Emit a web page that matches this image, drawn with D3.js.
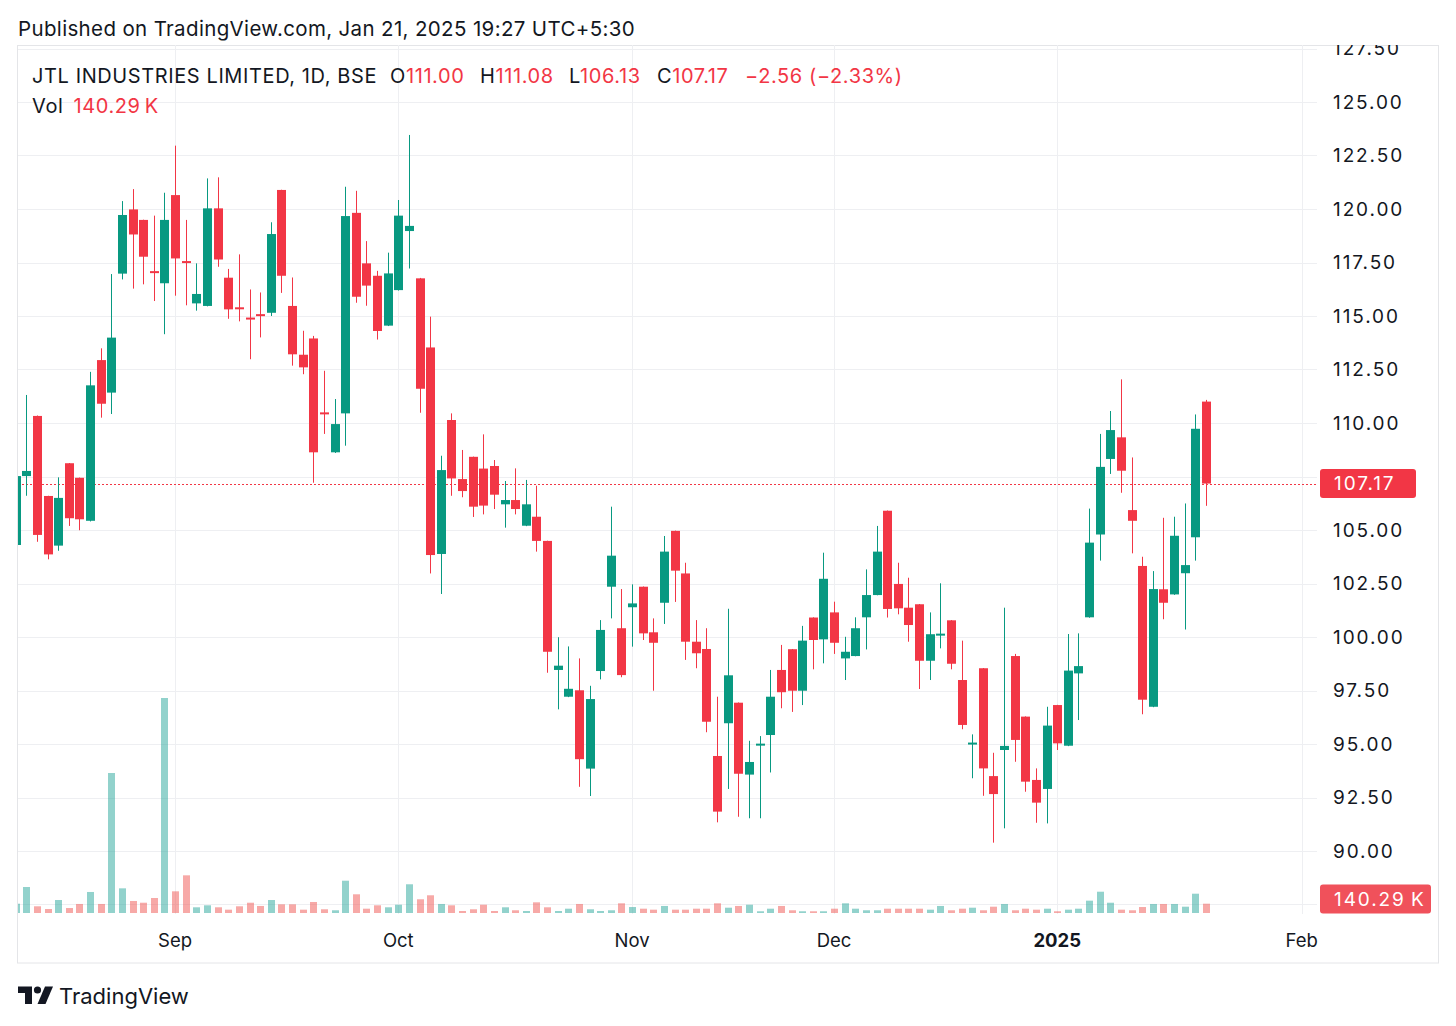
<!DOCTYPE html>
<html>
<head>
<meta charset="utf-8">
<script src="https://cdn.jsdelivr.net/npm/d3@7"></script>
<style>
  body { margin: 0; background: #fff; }
  svg { display: block; font-family: Inter, "Noto Sans", sans-serif; }
</style>
</head>
<body>
<div id="chart"></div>
<script>
// --- Data (JTL Industries, BSE, daily; bar 0 = 9 Aug 2024, bar 112 = 21 Jan 2025) ---
const opens = [
  104.30, 107.52, 110.33, 106.59, 104.27, 108.12, 107.44, 105.43, 112.94, 111.42,
  116.98, 119.98, 119.49, 117.05, 116.53, 120.65, 117.52, 115.59, 115.47, 120.03,
  116.79, 115.36, 114.88, 115.04, 115.15, 120.89, 115.47, 113.19, 113.95, 110.45,
  108.63, 110.45, 119.82, 117.46, 116.88, 114.55, 116.21, 118.97, 116.76, 113.53,
  103.88, 110.14, 107.38, 108.42, 107.87, 107.99, 106.20, 106.40, 105.20, 105.62,
  104.49, 98.46, 97.21, 97.51, 93.85, 98.41, 102.35, 100.41, 101.39, 102.35,
  100.22, 101.60, 104.96, 102.97, 99.78, 99.44, 94.44, 95.97, 96.93, 93.57,
  94.93, 95.42, 98.46, 99.43, 97.49, 100.91, 99.89, 101.15, 99.00, 99.11,
  100.92, 101.96, 105.90, 102.48, 101.37, 101.53, 98.89, 100.07, 100.78, 97.99,
  94.98, 98.54, 93.50, 94.72, 99.11, 96.28, 93.32, 92.90, 96.82, 94.92,
  98.30, 100.92, 104.79, 108.32, 109.33, 105.93, 103.32, 96.74, 102.23, 101.99,
  102.98, 104.66, 111.00
];
const highs = [
  107.60, 111.31, 110.35, 106.60, 107.46, 108.13, 107.45, 112.39, 113.49, 116.96,
  120.37, 120.93, 119.50, 119.69, 120.76, 122.96, 119.49, 117.46, 121.43, 121.48,
  117.20, 117.88, 116.24, 116.10, 119.38, 120.90, 116.80, 114.31, 114.07, 112.44,
  111.12, 121.04, 120.85, 118.50, 117.11, 117.96, 120.42, 123.46, 116.78, 114.97,
  108.47, 110.45, 108.74, 108.43, 109.47, 108.27, 107.29, 107.88, 107.34, 107.07,
  104.50, 99.99, 99.56, 99.00, 97.72, 100.79, 106.09, 102.24, 102.46, 102.36,
  100.87, 104.72, 104.97, 103.47, 100.79, 100.41, 97.21, 101.32, 96.94, 95.15,
  95.37, 98.46, 99.63, 99.44, 100.52, 100.92, 103.94, 101.65, 100.01, 100.92,
  103.16, 105.19, 105.91, 103.47, 102.77, 101.54, 101.15, 102.51, 100.79, 99.83,
  95.45, 98.55, 94.59, 101.37, 99.21, 96.29, 93.86, 96.74, 96.83, 100.14,
  100.17, 106.00, 109.49, 110.56, 112.04, 108.39, 103.75, 103.08, 105.57, 105.62,
  106.24, 110.40, 111.08
];
const lows = [
  104.20, 106.60, 104.45, 103.63, 104.03, 105.19, 104.99, 105.40, 110.25, 110.42,
  116.71, 116.28, 116.48, 115.70, 114.15, 115.95, 115.50, 115.25, 115.45, 117.30,
  114.87, 114.75, 112.98, 114.00, 115.00, 116.08, 112.68, 112.28, 107.21, 109.49,
  108.60, 108.94, 115.62, 115.48, 113.90, 114.53, 116.19, 117.22, 110.48, 102.97,
  102.01, 106.60, 106.53, 105.61, 105.73, 105.98, 105.11, 105.73, 105.18, 103.99,
  98.33, 96.62, 97.19, 93.00, 92.57, 98.02, 100.87, 98.12, 99.55, 99.86,
  97.49, 100.61, 101.64, 98.93, 98.54, 95.55, 91.34, 92.90, 91.60, 91.53,
  91.53, 93.67, 96.67, 96.50, 96.82, 98.49, 98.77, 99.21, 97.99, 99.10,
  99.42, 101.95, 100.91, 101.06, 99.78, 97.57, 97.99, 99.47, 98.49, 95.69,
  93.40, 92.58, 90.39, 91.06, 94.17, 92.77, 91.32, 91.29, 94.72, 94.90,
  96.12, 100.90, 103.57, 107.62, 106.74, 103.91, 96.39, 96.72, 100.83, 101.97,
  100.35, 103.57, 106.13
];
const closes = [
  107.52, 107.76, 104.77, 103.86, 106.50, 105.55, 105.50, 111.76, 110.90, 113.99,
  119.72, 118.81, 117.77, 116.98, 119.49, 117.69, 117.45, 116.03, 120.03, 117.64,
  115.31, 115.30, 114.82, 114.98, 118.83, 116.88, 113.21, 112.60, 108.63, 110.39,
  109.95, 119.67, 115.90, 116.42, 114.30, 116.99, 119.69, 119.21, 111.60, 103.83,
  107.80, 107.41, 106.82, 106.09, 106.14, 106.65, 106.40, 105.98, 106.20, 104.49,
  99.31, 98.66, 97.58, 94.29, 97.10, 100.33, 103.80, 98.22, 101.57, 100.17,
  99.73, 103.99, 103.10, 99.78, 99.24, 96.04, 91.84, 98.21, 93.61, 94.16,
  94.97, 97.21, 97.42, 97.49, 99.83, 99.86, 102.72, 99.73, 99.31, 100.41,
  101.96, 103.99, 101.31, 101.34, 100.56, 98.89, 100.13, 100.11, 98.75, 95.89,
  95.02, 93.86, 92.66, 94.91, 95.19, 93.24, 92.26, 95.86, 95.03, 98.43,
  98.64, 104.41, 107.95, 109.67, 107.77, 105.43, 97.07, 102.24, 101.60, 104.73,
  103.36, 109.73, 107.17
];
// volume in thousands of shares
const volumesK = [
  140, 392, 101, 60, 196, 75, 136, 317, 136, 2111,
  372, 181, 155, 226, 3242, 327, 568, 86, 116, 86,
  50, 101, 155, 106, 196, 131, 131, 50, 166, 56,
  41, 487, 282, 65, 116, 86, 125, 433, 207, 267,
  136, 116, 30, 56, 125, 30, 86, 41, 30, 161,
  86, 30, 65, 136, 56, 30, 41, 146, 90, 65,
  50, 106, 50, 50, 65, 65, 146, 80, 106, 125,
  26, 65, 106, 41, 26, 26, 26, 65, 146, 65,
  41, 41, 65, 65, 65, 65, 50, 106, 41, 65,
  80, 41, 95, 136, 41, 65, 50, 65, 26, 50,
  65, 186, 321, 155, 50, 41, 90, 136, 136, 136,
  95, 291, 140.29
];

// --- Axis labels ---
const monthTickIdx = [15, 36, 58, 77, 98, 121];
const monthTickLabels = ["Sep", "Oct", "Nov", "Dec", "2025", "Feb"];
const priceTicks = [87.5, 90, 92.5, 95, 97.5, 100, 102.5, 105, 107.5, 110, 112.5, 115, 117.5, 120, 122.5, 125, 127.5];

// --- Dimensions ---
const width = 1456;
const height = 1026;
const frame = { left: 17.5, right: 1438.5, top: 45.5, bottom: 963 };
const plot = { left: 18, right: 1317, top: 45, bottom: 914 };

const upColor = "#089981";
const downColor = "#f23645";
const upVolColor = "rgba(38,166,154,0.5)";
const downVolColor = "rgba(239,83,80,0.5)";
const gridColor = "#eeeff2";
const textColor = "#131722";

// --- SVG Setup ---
const svg = d3.select("#chart").append("svg")
  .attr("width", width)
  .attr("height", height)
  .attr("viewBox", [0, 0, width, height]);

svg.append("rect").attr("width", width).attr("height", height).attr("fill", "#fff");

const defs = svg.append("defs");
defs.append("clipPath").attr("id", "plot-clip")
  .append("rect")
  .attr("x", plot.left).attr("y", plot.top)
  .attr("width", plot.right - plot.left).attr("height", plot.bottom - plot.top);
defs.append("clipPath").attr("id", "axis-clip")
  .append("rect")
  .attr("x", plot.right).attr("y", plot.top)
  .attr("width", frame.right - plot.right).attr("height", frame.bottom - plot.top);

// --- Scales ---
const x = d3.scaleLinear().domain([0, 112]).range([15.7, 1206]);
const y = d3.scaleLinear().domain([90, 125]).range([851, 102]);
const yVol = d3.scaleLinear().domain([0, d3.max(volumesK)]).range([913, 698]);

const bars = closes.map((c, i) => ({
  i, open: opens[i], high: highs[i], low: lows[i], close: c, vol: volumesK[i], up: c >= opens[i]
}));
const last = bars[bars.length - 1];
const prev = bars[bars.length - 2];

// Header text
svg.append("text")
  .attr("x", 18).attr("y", 36)
  .attr("font-size", "20.5px")
  .attr("letter-spacing", "0.35px")
  .attr("fill", textColor)
  .text("Published on TradingView.com, Jan 21, 2025 19:27 UTC+5:30");

// --- Frame ---
svg.append("rect")
  .attr("x", frame.left).attr("y", frame.top)
  .attr("width", frame.right - frame.left).attr("height", frame.bottom - frame.top)
  .attr("fill", "none")
  .attr("stroke", "#e4e5e8");

// --- Grid ---
const grid = svg.append("g").attr("clip-path", "url(#plot-clip)");
grid.selectAll("line.h")
  .data(priceTicks)
  .join("line")
  .attr("class", "h")
  .attr("x1", plot.left).attr("x2", plot.right)
  .attr("y1", d => Math.round(y(d)) + 0.5).attr("y2", d => Math.round(y(d)) + 0.5)
  .attr("stroke", gridColor);
grid.selectAll("line.v")
  .data(monthTickIdx)
  .join("line")
  .attr("class", "v")
  .attr("x1", d => Math.round(x(d)) + 0.5).attr("x2", d => Math.round(x(d)) + 0.5)
  .attr("y1", plot.top).attr("y2", plot.bottom)
  .attr("stroke", gridColor);

// --- Volume ---
const vol = svg.append("g").attr("clip-path", "url(#plot-clip)");
vol.selectAll("rect")
  .data(bars)
  .join("rect")
  .attr("x", d => Math.round(x(d.i)) - 3)
  .attr("width", 7)
  .attr("y", d => yVol(d.vol))
  .attr("height", d => yVol(0) - yVol(d.vol))
  .attr("fill", d => d.up ? upVolColor : downVolColor);

// --- Last price line ---
svg.append("line")
  .attr("x1", plot.left).attr("x2", plot.right)
  .attr("y1", Math.round(y(last.close)) + 0.5).attr("y2", Math.round(y(last.close)) + 0.5)
  .attr("stroke", downColor)
  .attr("stroke-width", 1)
  .attr("stroke-dasharray", "2,2");

// --- Candles ---
const candles = svg.append("g").attr("clip-path", "url(#plot-clip)")
  .selectAll("g")
  .data(bars)
  .join("g");

candles.append("rect")
  .attr("x", d => Math.round(x(d.i)))
  .attr("width", 1)
  .attr("y", d => y(d.high))
  .attr("height", d => Math.max(1, y(d.low) - y(d.high)))
  .attr("fill", d => d.up ? upColor : downColor);

candles.append("rect")
  .attr("x", d => Math.round(x(d.i)) - 4)
  .attr("width", 9)
  .attr("y", d => Math.min(y(d.open), y(d.close)) - (Math.abs(y(d.open) - y(d.close)) < 2 ? 1 : 0))
  .attr("height", d => Math.max(2, Math.abs(y(d.open) - y(d.close))))
  .attr("fill", d => d.up ? upColor : downColor);

// --- Price axis ---
const axisG = svg.append("g").attr("clip-path", "url(#axis-clip)");
const lastY = y(last.close);
axisG.selectAll("text")
  .data(priceTicks.filter(d => d >= 90 && Math.abs(y(d) - lastY) > 20))
  .join("text")
  .attr("x", 1333)
  .attr("y", d => y(d))
  .attr("dy", "0.36em")
  .attr("font-size", "19px")
  .attr("letter-spacing", "1.9px")
  .attr("fill", textColor)
  .text(d => d.toFixed(2));

function axisBadge(cy, w, fill, label) {
  axisG.append("rect")
    .attr("x", 1320).attr("y", cy - 14.5)
    .attr("width", w).attr("height", 29)
    .attr("rx", 3)
    .attr("fill", fill);
  axisG.append("text")
    .attr("x", 1334).attr("y", cy)
    .attr("dy", "0.36em")
    .attr("font-size", "19px")
    .attr("letter-spacing", "1.9px")
    .attr("fill", "#fff")
    .text(label);
}
axisBadge(lastY, 96, downColor, last.close.toFixed(2));
axisBadge(899, 111, "#f0515b", `${last.vol.toFixed(2)}\u2009K`);

// --- Time axis ---
svg.append("g").selectAll("text")
  .data(monthTickIdx)
  .join("text")
  .attr("x", d => x(d))
  .attr("y", 947)
  .attr("text-anchor", "middle")
  .attr("font-size", "18.5px")
  .attr("font-weight", (d, k) => monthTickLabels[k] === "2025" ? 700 : 400)
  .attr("fill", textColor)
  .text((d, k) => monthTickLabels[k]);

// --- Legend ---
const change = last.close - prev.close;
const pct = change / prev.close * 100;
const fmtSigned = v => (v < 0 ? "\u2212" : "+") + Math.abs(v).toFixed(2);

svg.append("text")
  .attr("x", 32).attr("y", 83)
  .attr("font-size", "20px")
  .attr("letter-spacing", "0.6px")
  .attr("fill", textColor)
  .text("JTL INDUSTRIES LIMITED, 1D, BSE");

const ohlc = [
  { k: "O", v: last.open.toFixed(2), x: 390 },
  { k: "H", v: last.high.toFixed(2), x: 480 },
  { k: "L", v: last.low.toFixed(2), x: 569 },
  { k: "C", v: last.close.toFixed(2), x: 657 },
  { k: "", v: `${fmtSigned(change)} (${fmtSigned(pct)}%)`, x: 745 }
];
const ohlcText = svg.append("g").selectAll("text")
  .data(ohlc)
  .join("text")
  .attr("x", d => d.x).attr("y", 83)
  .attr("font-size", "20px")
  .attr("letter-spacing", "0.6px");
ohlcText.append("tspan").attr("fill", textColor).text(d => d.k);
ohlcText.append("tspan").attr("fill", downColor).text(d => d.v);

const volText = svg.append("text")
  .attr("x", 32).attr("y", 113)
  .attr("font-size", "20px")
  .attr("letter-spacing", "0.6px");
volText.append("tspan").attr("fill", textColor).text("Vol");
volText.append("tspan").attr("dx", 10).attr("fill", downColor).text(`${last.vol.toFixed(2)}\u2009K`);

// --- TradingView logo ---
const logo = svg.append("g").attr("fill", textColor);
logo.append("path").attr("d", "M18,986.5 H32 V1004 H25 V993 H18 Z");
logo.append("circle").attr("cx", 37.5).attr("cy", 990).attr("r", 3.6);
logo.append("path").attr("d", "M45,986.5 H53 L45.5,1004 H37.5 Z");
logo.append("text")
  .attr("x", 59).attr("y", 1004)
  .attr("font-size", "22px")
  .attr("fill", textColor)
  .text("TradingView");
</script>
</body>
</html>
